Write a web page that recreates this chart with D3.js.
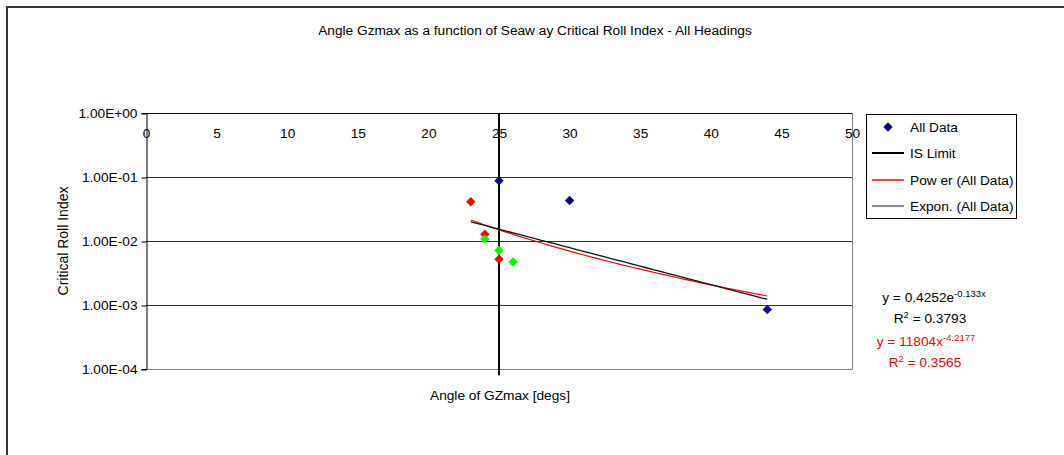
<!DOCTYPE html>
<html>
<head>
<meta charset="utf-8">
<script src="https://cdn.jsdelivr.net/npm/d3@7/dist/d3.min.js"></script>
<style>
  html, body { margin: 0; padding: 0; background: #fff; }
  svg { display: block; font-family: "Liberation Sans", Arial, sans-serif; }
</style>
</head>
<body>
<svg id="chart" width="1064" height="455"></svg>
<script>
// ---- data ----
const titleText = "Angle Gzmax as a function of Seaw ay Critical Roll Index - All Headings";
const xTitle = "Angle of GZmax [degs]";
const yTitle = "Critical Roll Index";
const xTickValues = [0, 5, 10, 15, 20, 25, 30, 35, 40, 45, 50];
const yTickValues = [1, 0.1, 0.01, 0.001, 0.0001];
const yTickLabels = ["1.00E+00", "1.00E-01", "1.00E-02", "1.00E-03", "1.00E-04"];
// All Data series (angle, critical roll index, point colour group)
const dataX = [25, 30, 44, 23, 24, 25, 24, 25, 26];
const dataY = [0.087, 0.043, 0.00085, 0.041, 0.0128, 0.0052, 0.0107, 0.0071, 0.0047];
const dataGroup = ["navy", "navy", "navy", "red", "red", "red", "green", "green", "green"];
// IS Limit series
const isLimitX = [25, 25];
const isLimitY = [1, 0.00008];
// Trendline coefficients (as displayed on chart)
const expA = 0.4252, expB = -0.133, expR2 = 0.3793;
const powA = 11804, powB = -4.2177, powR2 = 0.3565;
const legendLabels = ["All Data", "IS Limit", "Pow er (All Data)", "Expon. (All Data)"];

const groupColor = { navy: "#000080", red: "#ff0000", green: "#00ff00" };
const FS = 13.7;

// ---- chart ----
const svg = d3.select("#chart");
const plot = { left: 146, right: 852, top: 113, bottom: 369 };

const x = d3.scaleLinear().domain([0, 50]).range([plot.left, plot.right]);
const y = d3.scaleLog().domain([0.0001, 1]).range([plot.bottom, plot.top]);

// outer chart frame
svg.append("rect")
  .attr("x", 7).attr("y", 7).attr("width", 1100).attr("height", 500)
  .attr("fill", "#fff").attr("stroke", "#333").attr("stroke-width", 2);

// title
svg.append("text").attr("x", 535).attr("y", 35).attr("text-anchor", "middle")
  .attr("font-size", FS).attr("fill", "#000").text(titleText);

// plot area border (right + bottom)
svg.append("path")
  .attr("d", `M${plot.right + 0.5},${plot.top}V${plot.bottom + 0.5}H${plot.left}`)
  .attr("fill", "none").attr("stroke", "#808080").attr("stroke-width", 1);

// gridlines
svg.append("g").selectAll("line").data(yTickValues.slice(1, 4)).join("line")
  .attr("x1", plot.left).attr("x2", plot.right)
  .attr("y1", d => Math.round(y(d)) + 0.5).attr("y2", d => Math.round(y(d)) + 0.5)
  .attr("stroke", "#333").attr("stroke-width", 1);

// y axis
const yAxis = d3.axisLeft(y).tickValues(yTickValues)
  .tickFormat((d, i) => yTickLabels[i]).tickSize(5).tickPadding(4);
const gy = svg.append("g").attr("transform", `translate(${plot.left + 0.5},0)`).call(yAxis);
gy.selectAll(".tick line").attr("transform", "translate(0,0.5)");
gy.select(".domain").attr("stroke", "#000");
gy.selectAll("text").attr("font-size", FS).attr("fill", "#000")
  .attr("font-family", "Liberation Sans, Arial, sans-serif");

// x axis at top (crosses at max)
const xAxis = d3.axisBottom(x).tickValues(xTickValues).tickSize(0).tickPadding(15);
const gx = svg.append("g").attr("transform", `translate(0,${plot.top + 0.5})`).call(xAxis);
gx.select(".domain").attr("d", `M${plot.left},0H${plot.right}`).attr("stroke", "#000");
gx.selectAll("text").attr("font-size", FS).attr("fill", "#000")
  .attr("font-family", "Liberation Sans, Arial, sans-serif");

// axis titles
svg.append("text").attr("x", 500).attr("y", 400).attr("text-anchor", "middle")
  .attr("font-size", FS).text(xTitle);
svg.append("text").attr("transform", "translate(68,241) rotate(-90)")
  .attr("text-anchor", "middle").attr("font-size", FS + 0.3).text(yTitle);

// IS limit line
const line = d3.line().x(d => x(d[0])).y(d => y(d[1]));
svg.append("path").datum(d3.zip(isLimitX, isLimitY)).attr("d", line)
  .attr("fill", "none").attr("stroke", "#000").attr("stroke-width", 2);

// trendlines over the data x range
const xMin = d3.min(dataX), xMax = d3.max(dataX);
const xs = d3.range(xMin, xMax + 0.001, 0.5);
svg.append("path").datum(xs.map(v => [v, powA * Math.pow(v, powB)])).attr("d", line)
  .attr("fill", "none").attr("stroke", "#ff0000").attr("stroke-width", 1.2);
svg.append("path").datum(xs.map(v => [v, expA * Math.exp(expB * v)])).attr("d", line)
  .attr("fill", "none").attr("stroke", "#111").attr("stroke-width", 1.3);

// points
const diamond = d3.symbol().type(d3.symbolDiamond2).size(56);
svg.append("g").selectAll("path").data(d3.range(dataX.length)).join("path")
  .attr("d", diamond)
  .attr("transform", i => `translate(${x(dataX[i])},${y(dataY[i])})`)
  .attr("fill", i => groupColor[dataGroup[i]]);

// legend
const lg = svg.append("g");
lg.append("rect").attr("x", 866.5).attr("y", 114.5).attr("width", 150).attr("height", 104)
  .attr("fill", "#fff").attr("stroke", "#000").attr("stroke-width", 1);
const rowY = [127, 153, 180, 206];
legendLabels.forEach((lab, i) => {
  const cy = rowY[i];
  if (i === 0) {
    lg.append("path").attr("d", diamond).attr("transform", `translate(888,${cy})`)
      .attr("fill", groupColor.navy);
  } else {
    const col = i === 1 ? "#000" : i === 2 ? "#ff0000" : "#666";
    const w = i === 1 ? 2 : 1.5;
    lg.append("line").attr("x1", 872).attr("x2", 904).attr("y1", cy).attr("y2", cy)
      .attr("stroke", col).attr("stroke-width", w);
  }
  lg.append("text").attr("x", 910).attr("y", cy + 5).attr("font-size", FS).text(lab);
});

// trendline equations
function eq(xc, yc, color, main, sup) {
  const t = svg.append("text").attr("x", xc).attr("y", yc).attr("text-anchor", "middle")
    .attr("font-size", FS).attr("fill", color);
  t.append("tspan").text(main);
  t.append("tspan").attr("dy", -5).attr("font-size", 9.5).text(sup);
}
function r2(xc, yc, color, val) {
  const t = svg.append("text").attr("x", xc).attr("y", yc).attr("text-anchor", "middle")
    .attr("font-size", FS).attr("fill", color);
  t.append("tspan").text("R");
  t.append("tspan").attr("dy", -5).attr("font-size", 9.5).text("2");
  t.append("tspan").attr("dy", 5).text(` = ${val}`);
}
eq(934, 302, "#000", `y = ${expA}e`, `${expB}x`);
r2(930, 323, "#000", expR2.toFixed(4));
eq(926, 346, "#ff0000", `y = ${powA}x`, `${powB}`);
r2(925, 367, "#ff0000", powR2.toFixed(4));
</script>
</body>
</html>
